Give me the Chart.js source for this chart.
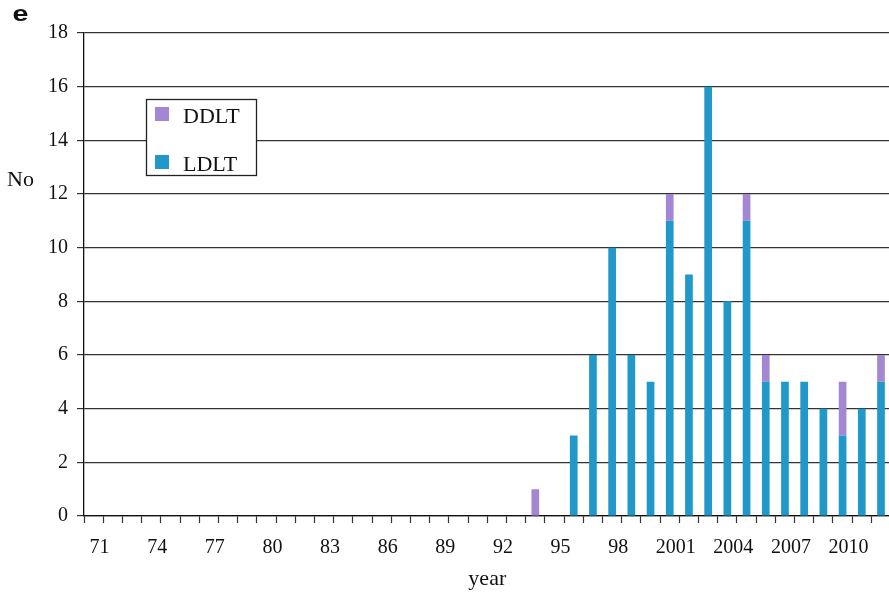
<!DOCTYPE html>
<html>
<head>
<meta charset="utf-8">
<script src="https://cdn.jsdelivr.net/npm/chart.js@4/dist/chart.umd.min.js"></script>
<style>
  html, body { margin: 0; padding: 0; background: #fff; overflow: hidden; }
  canvas { display: block; }
</style>
</head>
<body>
<canvas id="c" width="894" height="592"></canvas>
<script>
// Liver transplants per year, split by donor type
const years = [
  '71','72','73','74','75','76','77','78','79','80',
  '81','82','83','84','85','86','87','88','89','90',
  '91','92','93','94','95','96','97','98','99','2000',
  '2001','2002','2003','2004','2005','2006','2007','2008','2009','2010',
  '2011','2012'
];
const ldlt = [
  0,0,0,0,0,0,0,0,0,0,
  0,0,0,0,0,0,0,0,0,0,
  0,0,0,0,0,3,6,10,6,5,
  11,9,16,8,11,5,5,5,4,3,
  4,5
];
const ddlt = [
  0,0,0,0,0,0,0,0,0,0,
  0,0,0,0,0,0,0,0,0,0,
  0,0,0,1,0,0,0,0,0,0,
  1,0,0,0,1,1,0,0,0,2,
  0,1
];
const yTicks = [0, 2, 4, 6, 8, 10, 12, 14, 16, 18];

const BLUE = '#2098c9';
const PURPLE = '#a487d3';
const SERIF = '"Liberation Serif", "Times New Roman", serif';

// Panel letter, horizontal "No" axis label and the boxed legend
const decorations = {
  id: 'decorations',
  afterDraw(chart) {
    const ctx = chart.ctx;
    ctx.save();
    ctx.fillStyle = '#111';
    ctx.textBaseline = 'alphabetic';
    ctx.textAlign = 'left';

    // wide bold panel letter
    ctx.save();
    ctx.translate(12.5, 20.5);
    ctx.scale(1.3, 1);
    ctx.font = 'bold 22px "Liberation Sans", Arial, sans-serif';
    ctx.fillText('e', 0, 0);
    ctx.restore();

    ctx.font = '22px ' + SERIF;
    ctx.fillText('No', 7, 186);

    // legend box
    const bx = 146.5, by = 99.5, bw = 110, bh = 76;
    ctx.fillStyle = '#fff';
    ctx.fillRect(bx, by, bw, bh);
    ctx.strokeStyle = '#222';
    ctx.lineWidth = 1.3;
    ctx.strokeRect(bx, by, bw, bh);

    const items = [
      { label: 'DDLT', color: PURPLE, y: 107 },
      { label: 'LDLT', color: BLUE, y: 155 }
    ];
    ctx.font = '22px ' + SERIF;
    items.forEach(it => {
      ctx.fillStyle = it.color;
      ctx.fillRect(155, it.y, 14, 14);
      ctx.fillStyle = '#111';
      ctx.fillText(it.label, 183, it.y + 15.5);
    });
    ctx.restore();
  }
};

new Chart(document.getElementById('c'), {
  type: 'bar',
  data: {
    labels: years,
    datasets: [
      { label: 'LDLT', data: ldlt, backgroundColor: BLUE, borderWidth: 0, stack: 's' },
      { label: 'DDLT', data: ddlt, backgroundColor: PURPLE, borderWidth: 0, stack: 's' }
    ]
  },
  options: {
    responsive: false,
    animation: false,
    devicePixelRatio: 1,
    layout: { padding: { left: 0, right: 0, top: 33, bottom: 0 } },
    plugins: {
      legend: { display: false },
      tooltip: { enabled: false },
      title: { display: false }
    },
    datasets: {
      bar: { categoryPercentage: 1.0, barPercentage: 0.4 }
    },
    scales: {
      x: {
        stacked: true,
        offset: true,
        afterFit(scale) { scale.height = 76; },
        border: { display: true, color: '#111', width: 1.3 },
        grid: {
          offset: true,
          drawOnChartArea: false,
          drawTicks: true,
          tickLength: 7,
          tickColor: '#333',
          tickWidth: 1.2
        },
        ticks: {
          autoSkip: false,
          maxRotation: 0,
          minRotation: 0,
          labelOffset: 6,
          padding: 13,
          color: '#111',
          font: { family: SERIF, size: 20 },
          callback(value, index) {
            return index % 3 === 0 ? years[index] : '';
          }
        },
        title: {
          display: true,
          text: 'year',
          color: '#111',
          font: { family: SERIF, size: 22 },
          padding: { top: 0, bottom: 0 }
        }
      },
      y: {
        stacked: true,
        min: 0,
        max: 18,
        afterFit(scale) { scale.width = 84; },
        afterBuildTicks(scale) {
          scale.ticks = yTicks.map(v => ({ value: v }));
        },
        border: { display: true, color: '#111', width: 1.3 },
        grid: {
          color: '#333',
          lineWidth: 1.2,
          drawTicks: true,
          tickLength: 7,
          tickColor: '#333'
        },
        ticks: {
          padding: 9,
          color: '#111',
          font: { family: SERIF, size: 20 }
        }
      }
    }
  },
  plugins: [decorations]
});
</script>
</body>
</html>
